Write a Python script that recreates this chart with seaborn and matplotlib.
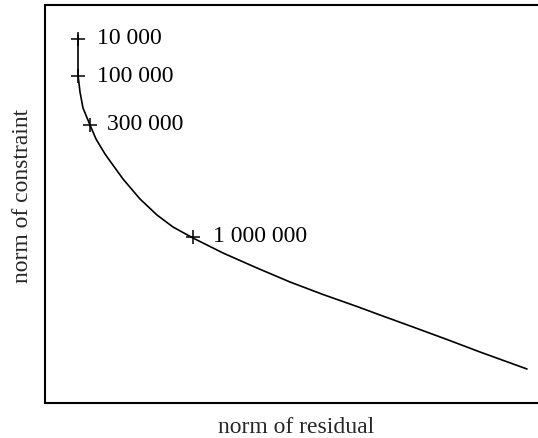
import matplotlib
matplotlib.use("Agg")
import matplotlib.pyplot as plt
import seaborn as sns
import pandas as pd

# L-curve (arbitrary units)
residual_norm = [33, 33, 33, 35, 38, 45, 51, 60, 65, 78, 95, 112, 128, 148,
                 178, 212, 245, 278, 312, 335, 368, 402, 435, 482]
constraint_norm = [368, 348, 328, 311, 295, 278, 264, 249, 242, 224, 204, 188, 176, 165,
                   150, 135, 121, 108.5, 96.5, 88, 76, 63.5, 51, 34]

# marked regularisation parameters
marker_labels = ["10 000", "100 000", "300 000", "1 000 000"]
marker_residual = [33, 33, 45, 148]
marker_constraint = [364, 327, 278, 166]

sns.set_theme(style="white")
plt.rcParams["font.family"] = ["Liberation Serif", "DejaVu Serif"]

fig = plt.figure(figsize=(5.38, 4.38), dpi=100)
ax = fig.add_axes([45/538, 35/438, 493/538, 398/438])

curve = pd.DataFrame({"res": residual_norm, "con": constraint_norm})
marks = pd.DataFrame({"res": marker_residual, "con": marker_constraint, "lab": marker_labels})

sns.lineplot(data=curve, x="res", y="con", sort=False, estimator=None,
             color="black", linewidth=1.2, ax=ax)
sns.scatterplot(data=marks, x="res", y="con", marker="+", s=90, color="black",
                linewidth=1.1, ax=ax, zorder=3)

offsets = [19, 19, 17, 20]
for lab, xv, yv, off in zip(marker_labels, marker_residual, marker_constraint, offsets):
    ax.annotate(lab, (xv, yv), xytext=(off, 0), textcoords="offset pixels",
                ha="left", va="center", fontsize=17, color="black")

ax.set_xlim(0, 493)
ax.set_ylim(0, 398)
ax.set_xticks([])
ax.set_yticks([])
for s in ["left", "bottom", "top"]:
    ax.spines[s].set_color("black")
    ax.spines[s].set_linewidth(1.5)
ax.spines["right"].set_visible(False)

ax.set_xlabel("norm of residual", fontsize=17, va="baseline")
ax.xaxis.set_label_coords((296 - 45) / 493, -0.0754)
ax.set_ylabel("norm of constraint", fontsize=17, va="center")
ax.yaxis.set_label_coords(-0.045, 0.52)

fig.savefig("out.png", dpi=100)
